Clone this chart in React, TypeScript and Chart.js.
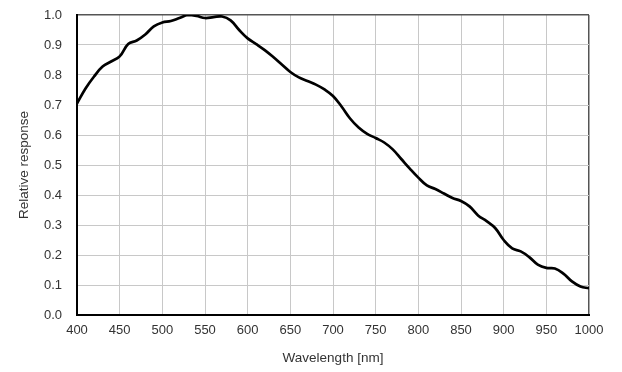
import React, { useEffect, useRef } from "react";
import { Chart, registerables } from "chart.js";

Chart.register(...registerables);

const wavelengths = [
  400, 410, 420, 430, 440, 450, 460, 470, 480, 490, 500, 510, 520, 530, 540, 550, 560, 570, 580, 590,
  600, 610, 620, 630, 640, 650, 660, 670, 680, 690, 700, 710, 720, 730, 740, 750, 760, 770, 780, 790,
  800, 810, 820, 830, 840, 850, 860, 870, 880, 890, 900, 910, 920, 930, 940, 950, 960, 970, 980, 990, 1000,
];
const response = [
  0.705, 0.755, 0.795, 0.828, 0.845, 0.862, 0.903, 0.915, 0.935, 0.962, 0.975, 0.98, 0.99, 1.0, 0.997,
  0.99, 0.993, 0.995, 0.982, 0.95, 0.922, 0.903, 0.883, 0.86, 0.835, 0.81, 0.792, 0.78, 0.768, 0.752,
  0.73, 0.695, 0.655, 0.625, 0.604, 0.59, 0.575, 0.552, 0.52, 0.488, 0.458, 0.432, 0.42, 0.405, 0.39,
  0.38, 0.362, 0.332, 0.313, 0.29, 0.25, 0.222, 0.212, 0.193, 0.168, 0.157, 0.155, 0.138, 0.112, 0.095, 0.089,
];
const xTitle = "Wavelength [nm]";
const yTitle = "Relative response";

export default function App() {
  const ref = useRef<HTMLCanvasElement>(null);
  useEffect(() => {
    const canvas = ref.current!;
    const family = "'Liberation Sans', Arial, sans-serif";
    const tickFont = { family, size: 13 };
    const titleFont = { family, size: 13.5 };
    const chart = new Chart(canvas, {
      type: "line",
      data: {
        datasets: [
          {
            data: wavelengths.map((w, i) => ({ x: w, y: response[i] })),
            borderColor: "#000",
            borderWidth: 2.7,
            pointRadius: 0,
            tension: 0.4,
            fill: false,
          },
        ],
      },
      options: {
        animation: false,
        responsive: false,
        layout: { padding: { left: 0, right: 33, top: 15, bottom: 0 } },
        plugins: { legend: { display: false }, tooltip: { enabled: false } },
        scales: {
          x: {
            type: "linear",
            min: 400,
            max: 1000,
            ticks: { stepSize: 50, color: "#333", font: tickFont, padding: 8, callback: (v: any) => String(v) },
            grid: {
              drawTicks: false,
              color: (c: any) => (c.tick && c.tick.value === 1000 ? "#555" : "#c8c8c8"),
              lineWidth: (c: any) => (c.tick && c.tick.value === 1000 ? 1.5 : 1),
            },
            border: { color: "#000", width: 2 },
            title: { display: true, text: xTitle, color: "#333", font: titleFont, padding: { top: 0, bottom: 6 } },
            afterFit: (s: any) => {
              s.height = 57;
              s.paddingLeft = 0;
              s.paddingRight = 0;
            },
          },
          y: {
            min: 0,
            max: 1,
            ticks: {
              stepSize: 0.1,
              color: "#333",
              font: tickFont,
              padding: 15,
              callback: (v: any) => Number(v).toFixed(1),
            },
            grid: {
              drawTicks: false,
              color: (c: any) => (c.tick && Math.abs(c.tick.value - 1) < 1e-9 ? "#555" : "#c8c8c8"),
              lineWidth: (c: any) => (c.tick && Math.abs(c.tick.value - 1) < 1e-9 ? 1.5 : 1),
            },
            border: { color: "#000", width: 2 },
            title: { display: true, text: yTitle, color: "#333", font: titleFont, padding: { top: 16, bottom: 0 } },
            afterFit: (s: any) => {
              s.width = 77;
              s.paddingTop = 0;
              s.paddingBottom = 0;
            },
          },
        },
      },
    });
    return () => chart.destroy();
  }, []);
  return (
    <div style={{ position: "fixed", left: 0, top: 0, width: 622, height: 372, background: "#fff" }}>
      <canvas ref={ref} width={622} height={372} />
    </div>
  );
}
